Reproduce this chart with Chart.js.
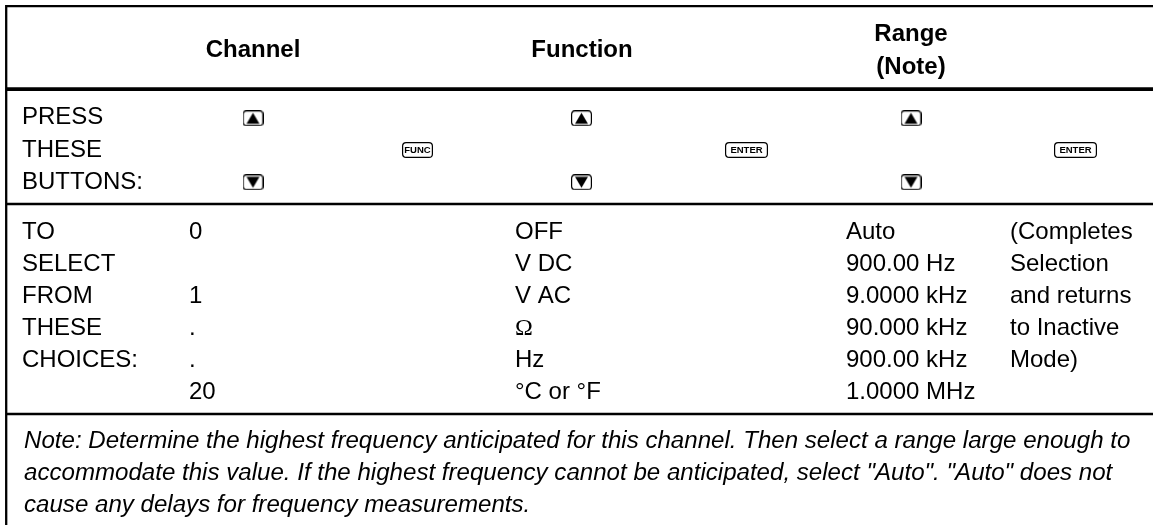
<!DOCTYPE html>
<html>
<head>
<meta charset="utf-8">
<style>
html, body { margin: 0; padding: 0; background: #fff; }
#wrap { position: relative; width: 1153px; height: 525px; }
</style>
<script src="https://cdn.jsdelivr.net/npm/chart.js@4"></script>
</head>
<body>
<div id="wrap"><canvas id="chTable"></canvas></div>
<script>
// table content
var headerChannel = ["Channel"];
var headerFunction = ["Function"];
var headerRange = ["Range", "(Note)"];
var pressLabels = ["PRESS", "THESE", "BUTTONS:"];
var selectLabels = ["TO", "SELECT", "FROM", "THESE", "CHOICES:"];
var channelChoices = ["0", "", "1", ".", ".", "20"];
var functionChoices = ["OFF", "V DC", "V AC", "Ω", "Hz", "°C or °F"];
var rangeChoices = ["Auto", "900.00 Hz", "9.0000 kHz", "90.000 kHz", "900.00 kHz", "1.0000 MHz"];
var completesText = ["(Completes", "Selection", "and returns", "to Inactive", "Mode)"];
var noteLines = [
    "Note: Determine the highest frequency anticipated for this channel. Then select a range large enough to",
    "accommodate this value. If the highest frequency cannot be anticipated, select \"Auto\". \"Auto\" does not",
    "cause any delays for frequency measurements."
];

// layout, in image pixels (the axes run 0-1153 and 0-525)
var W = 1153, H = 525;
var ruleTop = 6.2, ruleHeavy = 89.2, ruleButtons = 204, ruleChoices = 414;
var ruleLeft = 6.2, ruleRight = 1153;
var colLabel = 22, colChannel = 189, colFunction = 515, colRange = 846, colEnd = 1010;
var colNote = 24;
var pressRows = [124, 156.5, 189];
var choiceRows = [238.5, 270.5, 303, 335, 367, 399];
var noteRows = [448, 480, 512];
var keyRows = [118.3, 150, 182.3];
var upDownX = [253, 581.5, 911];
var funcX = 417.5;
var enterX = [746.5, 1075.5];
var headerCenters = [253, 582, 911];
var fontFamily = '"Liberation Sans", Arial, sans-serif';

function rule(x1, y1, x2, y2, width) {
    return {
        data: [{ x: x1, y: y1 }, { x: x2, y: y2 }],
        showLine: true,
        borderColor: '#000',
        borderWidth: width,
        pointRadius: 0
    };
}

// the little key caps are used as point styles
function keyCanvas(w, h, draw) {
    var c = document.createElement('canvas');
    c.width = w; c.height = h;
    var g = c.getContext('2d');
    g.strokeStyle = '#000';
    g.fillStyle = '#000';
    g.lineWidth = 1.2;
    g.beginPath();
    g.roundRect(0.6, 0.6, w - 1.2, h - 1.2, 3.5);
    g.stroke();
    draw(g, w, h);
    return c;
}
function arrowKey(up) {
    return keyCanvas(21, 16, function (g, w, h) {
        g.beginPath();
        if (up) {
            g.moveTo(w / 2, 2.5); g.lineTo(w - 4, h - 2.5); g.lineTo(4, h - 2.5);
        } else {
            g.moveTo(4, 2.5); g.lineTo(w - 4, 2.5); g.lineTo(w / 2, h - 2.5);
        }
        g.closePath();
        g.fill();
    });
}
function textKey(w, label) {
    return keyCanvas(w, 16, function (g) {
        g.font = 'bold 9.5px ' + fontFamily;
        g.textAlign = 'center';
        g.textBaseline = 'middle';
        g.fillText(label, w / 2, 8.5);
    });
}

function keyDataset(xs, ys, style) {
    var pts = [];
    xs.forEach(function (x) {
        ys.forEach(function (y) { pts.push({ x: x, y: y }); });
    });
    return { data: pts, pointStyle: style, pointRadius: 8, showLine: false };
}

var tableText = {
    id: 'tableText',
    afterDatasetsDraw: function (chart) {
        var ctx = chart.ctx;
        var sx = chart.scales.x, sy = chart.scales.y;
        function put(str, x, y, font, align) {
            ctx.font = font;
            ctx.textAlign = align || 'left';
            ctx.textBaseline = 'alphabetic';
            ctx.fillStyle = '#000';
            ctx.fillText(str, sx.getPixelForValue(x), sy.getPixelForValue(y));
        }
        var body = '24px ' + fontFamily;
        var bold = 'bold 24px ' + fontFamily;
        var ital = 'italic 24.1px ' + fontFamily;
        var omega = '24px "Liberation Serif", serif';
        ctx.save();
        put(headerChannel[0], headerCenters[0], 57.3, bold, 'center');
        put(headerFunction[0], headerCenters[1], 57.3, bold, 'center');
        put(headerRange[0], headerCenters[2], 41, bold, 'center');
        put(headerRange[1], headerCenters[2], 74, bold, 'center');
        pressLabels.forEach(function (s, i) { put(s, colLabel, pressRows[i], body); });
        selectLabels.forEach(function (s, i) { put(s, colLabel, choiceRows[i], body); });
        channelChoices.forEach(function (s, i) { if (s) put(s, colChannel, choiceRows[i], body); });
        functionChoices.forEach(function (s, i) { put(s, colFunction, choiceRows[i], s === "Ω" ? omega : body); });
        rangeChoices.forEach(function (s, i) { put(s, colRange, choiceRows[i], body); });
        completesText.forEach(function (s, i) { put(s, colEnd, choiceRows[i], body); });
        noteLines.forEach(function (s, i) { put(s, colNote, noteRows[i], ital); });
        ctx.restore();
    }
};

document.addEventListener("DOMContentLoaded", function () {
    var ctx = document.getElementById("chTable").getContext('2d');
    new Chart(ctx, {
        type: 'scatter',
        plugins: [tableText],
        data: {
            datasets: [
                rule(ruleLeft, ruleTop - 1.2, ruleLeft, H, 2.3),
                rule(ruleLeft, ruleTop, ruleRight, ruleTop, 2.3),
                rule(ruleLeft, ruleHeavy, ruleRight, ruleHeavy, 3.7),
                rule(ruleLeft, ruleButtons, ruleRight, ruleButtons, 2.3),
                rule(ruleLeft, ruleChoices, ruleRight, ruleChoices, 2.3),
                keyDataset(upDownX, [keyRows[0]], arrowKey(true)),
                keyDataset(upDownX, [keyRows[2]], arrowKey(false)),
                keyDataset([funcX], [keyRows[1]], textKey(31, 'FUNC')),
                keyDataset(enterX, [keyRows[1]], textKey(43, 'ENTER'))
            ]
        },
        options: {
            responsive: true,
            maintainAspectRatio: false,
            animation: false,
            layout: { padding: 0, autoPadding: false },
            plugins: { legend: { display: false }, tooltip: { enabled: false } },
            scales: {
                x: { type: 'linear', min: 0, max: W, display: false },
                y: { type: 'linear', min: 0, max: H, reverse: true, display: false }
            }
        }
    });
});
</script>
</body>
</html>
